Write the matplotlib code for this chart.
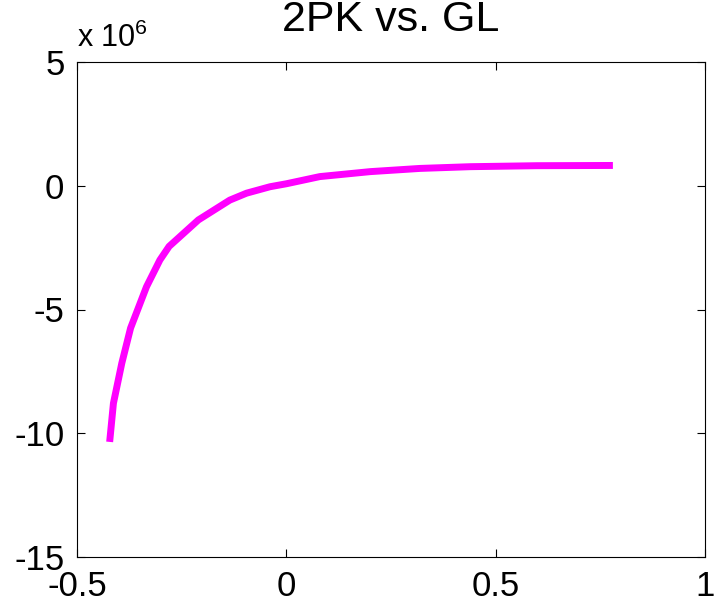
import numpy as np
import matplotlib
matplotlib.use('Agg')
import matplotlib.pyplot as plt
from matplotlib.ticker import FuncFormatter

# values (y in units of 1e6)
gl = [-0.422, -0.413, -0.393, -0.372, -0.334, -0.302, -0.280, -0.210,
      -0.135, -0.095, -0.039, 0.0, 0.080, 0.200, 0.319, 0.439, 0.598, 0.78]
pk2 = [-10.35, -8.79, -7.17, -5.75, -4.08, -3.0, -2.45, -1.38,
       -0.58, -0.30, -0.04, 0.08, 0.37, 0.57, 0.70, 0.77, 0.81, 0.82]
xticks = [-0.5, 0, 0.5, 1]
yticks = [-15, -10, -5, 0, 5]

plt.rcParams['font.family'] = ['Liberation Sans', 'DejaVu Sans']
plt.rcParams['mathtext.fontset'] = 'custom'
plt.rcParams['mathtext.rm'] = 'Liberation Sans'

fig = plt.figure(figsize=(7.17, 6.04), dpi=100)
ax = fig.add_axes([77/717., 1 - 557/604., 628/717., 495/604.])

ax.plot(gl, np.array(pk2) * 1e6, color='#ff00ff', lw=5, solid_capstyle='butt')

ax.set_xlim(-0.5, 1)
ax.set_ylim(-15e6, 5e6)
ax.set_xticks(xticks)
ax.set_yticks(np.array(yticks) * 1e6)
ax.xaxis.set_major_formatter(FuncFormatter(lambda v, p: ('%g' % v)))
ax.yaxis.set_major_formatter(FuncFormatter(lambda v, p: ('%g' % (v / 1e6))))
ax.tick_params(direction='in', length=6, width=0.8, top=True, right=True,
               labelsize=25, pad=9)
for s in ax.spines.values():
    s.set_linewidth(0.8)

ax.text(0, 1.03, r'x 10$^{6}$', transform=ax.transAxes, fontsize=22,
        ha='left', va='baseline')
ax.set_title('2PK vs. GL', fontsize=31, pad=22)

plt.savefig('out.png', dpi=100)
